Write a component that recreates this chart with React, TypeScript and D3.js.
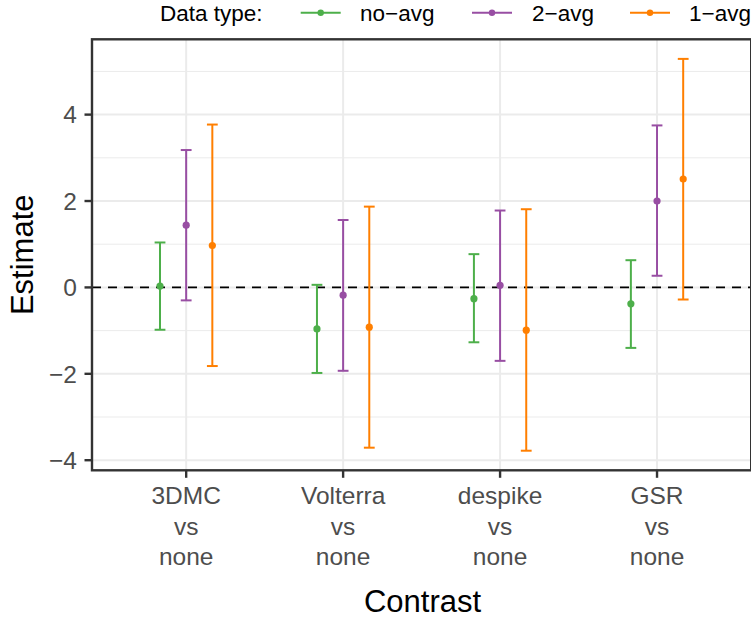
import React from "react";
import * as d3 from "d3";

const categories = ["3DMC vs none", "Volterra vs none", "despike vs none", "GSR vs none"];
const categoryLines = [["3DMC", "vs", "none"], ["Volterra", "vs", "none"], ["despike", "vs", "none"], ["GSR", "vs", "none"]];
const seriesNames = ["no\u2212avg", "2\u2212avg", "1\u2212avg"];
const seriesColors = ["#4DAF4A", "#984EA3", "#FF7F00"];

const noAvgEst = [0.03, -0.96, -0.26, -0.38];
const noAvgLow = [-0.98, -1.98, -1.27, -1.40];
const noAvgHigh = [1.04, 0.06, 0.77, 0.63];

const twoAvgEst = [1.44, -0.18, 0.05, 2.0];
const twoAvgLow = [-0.30, -1.93, -1.70, 0.27];
const twoAvgHigh = [3.18, 1.56, 1.78, 3.75];

const oneAvgEst = [0.97, -0.92, -0.99, 2.51];
const oneAvgLow = [-1.82, -3.71, -3.78, -0.28];
const oneAvgHigh = [3.77, 1.87, 1.81, 5.29];

const yMajorTicks = [-4, -2, 0, 2, 4];
const yMinorTicks = [-3, -1, 1, 3, 5];

const series = [
  { name: seriesNames[0], color: seriesColors[0], est: noAvgEst, low: noAvgLow, high: noAvgHigh },
  { name: seriesNames[1], color: seriesColors[1], est: twoAvgEst, low: twoAvgLow, high: twoAvgHigh },
  { name: seriesNames[2], color: seriesColors[2], est: oneAvgEst, low: oneAvgLow, high: oneAvgHigh },
];

const W = 751;
const H = 619;
const panel = { left: 92, top: 39.3, right: 751.2, bottom: 470.3 };
const FONT = "'Liberation Sans', Arial, Helvetica, sans-serif";

export default function App() {
  const allVals = series.flatMap((s) => [...s.low, ...s.high]);
  const lo = d3.min(allVals) as number;
  const hi = d3.max(allVals) as number;
  const pad = (hi - lo) * 0.05;
  const y = d3.scaleLinear().domain([lo - pad, hi + pad]).range([panel.bottom, panel.top]);
  const x = d3.scalePoint<string>().domain(categories).range([panel.left, panel.right]).padding(0.6);
  const step = x.step();
  const dodge = (i: number) => (i - 1) * (0.5 / 3) * step;
  const capHalf = 5.4;
  const lw = 2;

  const legendKeys = [
    { keyX: 300.7, textX: 360 },
    { keyX: 472, textX: 532 },
    { keyX: 630, textX: 689 },
  ];
  const legendY = 12.7;

  return (
    <svg width={W} height={H} style={{ position: "absolute", left: 0, top: 0, background: "#fff" }} fontFamily={FONT}>
      <rect x={0} y={0} width={W} height={H} fill="#fff" />
      {/* grid */}
      {yMinorTicks.map((t) => (
        <line key={"mn" + t} x1={panel.left} x2={panel.right} y1={y(t)} y2={y(t)} stroke="#EBEBEB" strokeWidth={1} />
      ))}
      {yMajorTicks.map((t) => (
        <line key={"mj" + t} x1={panel.left} x2={panel.right} y1={y(t)} y2={y(t)} stroke="#EBEBEB" strokeWidth={2} />
      ))}
      {categories.map((c) => (
        <line key={"vg" + c} x1={x(c)} x2={x(c)} y1={panel.top} y2={panel.bottom} stroke="#EBEBEB" strokeWidth={2} />
      ))}
      {/* zero line */}
      <line x1={panel.left} x2={panel.right} y1={y(0)} y2={y(0)} stroke="#000" strokeWidth={1.8} strokeDasharray="9,7" />
      {/* error bars */}
      {series.map((s, si) =>
        categories.map((c, ci) => {
          const cx = (x(c) as number) + dodge(si);
          return (
            <g key={s.name + c}>
              <line x1={cx} x2={cx} y1={y(s.low[ci])} y2={y(s.high[ci])} stroke={s.color} strokeWidth={lw} />
              <line x1={cx - capHalf} x2={cx + capHalf} y1={y(s.low[ci])} y2={y(s.low[ci])} stroke={s.color} strokeWidth={lw} />
              <line x1={cx - capHalf} x2={cx + capHalf} y1={y(s.high[ci])} y2={y(s.high[ci])} stroke={s.color} strokeWidth={lw} />
              <circle cx={cx} cy={y(s.est[ci])} r={3.6} fill={s.color} />
            </g>
          );
        })
      )}
      {/* border */}
      <rect x={panel.left} y={panel.top} width={panel.right - panel.left} height={panel.bottom - panel.top} fill="none" stroke="#333333" strokeWidth={2.4} />
      {/* y axis ticks */}
      {yMajorTicks.map((t) => (
        <g key={"yt" + t}>
          <line x1={panel.left - 7.5} x2={panel.left} y1={y(t)} y2={y(t)} stroke="#333333" strokeWidth={2.4} />
          <text x={77} y={y(t)} dy="0.36em" textAnchor="end" fontSize={24.5} fill="#4D4D4D">
            {t < 0 ? "\u2212" + Math.abs(t) : String(t)}
          </text>
        </g>
      ))}
      {/* x axis ticks */}
      {categories.map((c, ci) => (
        <g key={"xt" + c}>
          <line x1={x(c)} x2={x(c)} y1={panel.bottom} y2={panel.bottom + 7.5} stroke="#333333" strokeWidth={2.4} />
          {categoryLines[ci].map((ln, li) => (
            <text key={li} x={x(c)} y={504 + li * 30.5} textAnchor="middle" fontSize={24.5} fill="#4D4D4D">
              {ln}
            </text>
          ))}
        </g>
      ))}
      {/* axis titles */}
      <text x={(panel.left + 751) / 2 + 1} y={611.5} textAnchor="middle" fontSize={31} fill="#000">
        Contrast
      </text>
      <text transform={`translate(32.5,${(panel.top + panel.bottom) / 2}) rotate(-90)`} textAnchor="middle" fontSize={31} fill="#000">
        Estimate
      </text>
      {/* legend */}
      <text x={160} y={20.7} fontSize={22.5} fill="#000">
        Data type:
      </text>
      {series.map((s, si) => (
        <g key={"lg" + s.name}>
          <line x1={legendKeys[si].keyX} x2={legendKeys[si].keyX + 40} y1={legendY} y2={legendY} stroke={s.color} strokeWidth={lw} />
          <circle cx={legendKeys[si].keyX + 20} cy={legendY} r={3.2} fill={s.color} />
          <text x={legendKeys[si].textX} y={20.7} fontSize={22.5} fill="#000">
            {s.name}
          </text>
        </g>
      ))}
    </svg>
  );
}
